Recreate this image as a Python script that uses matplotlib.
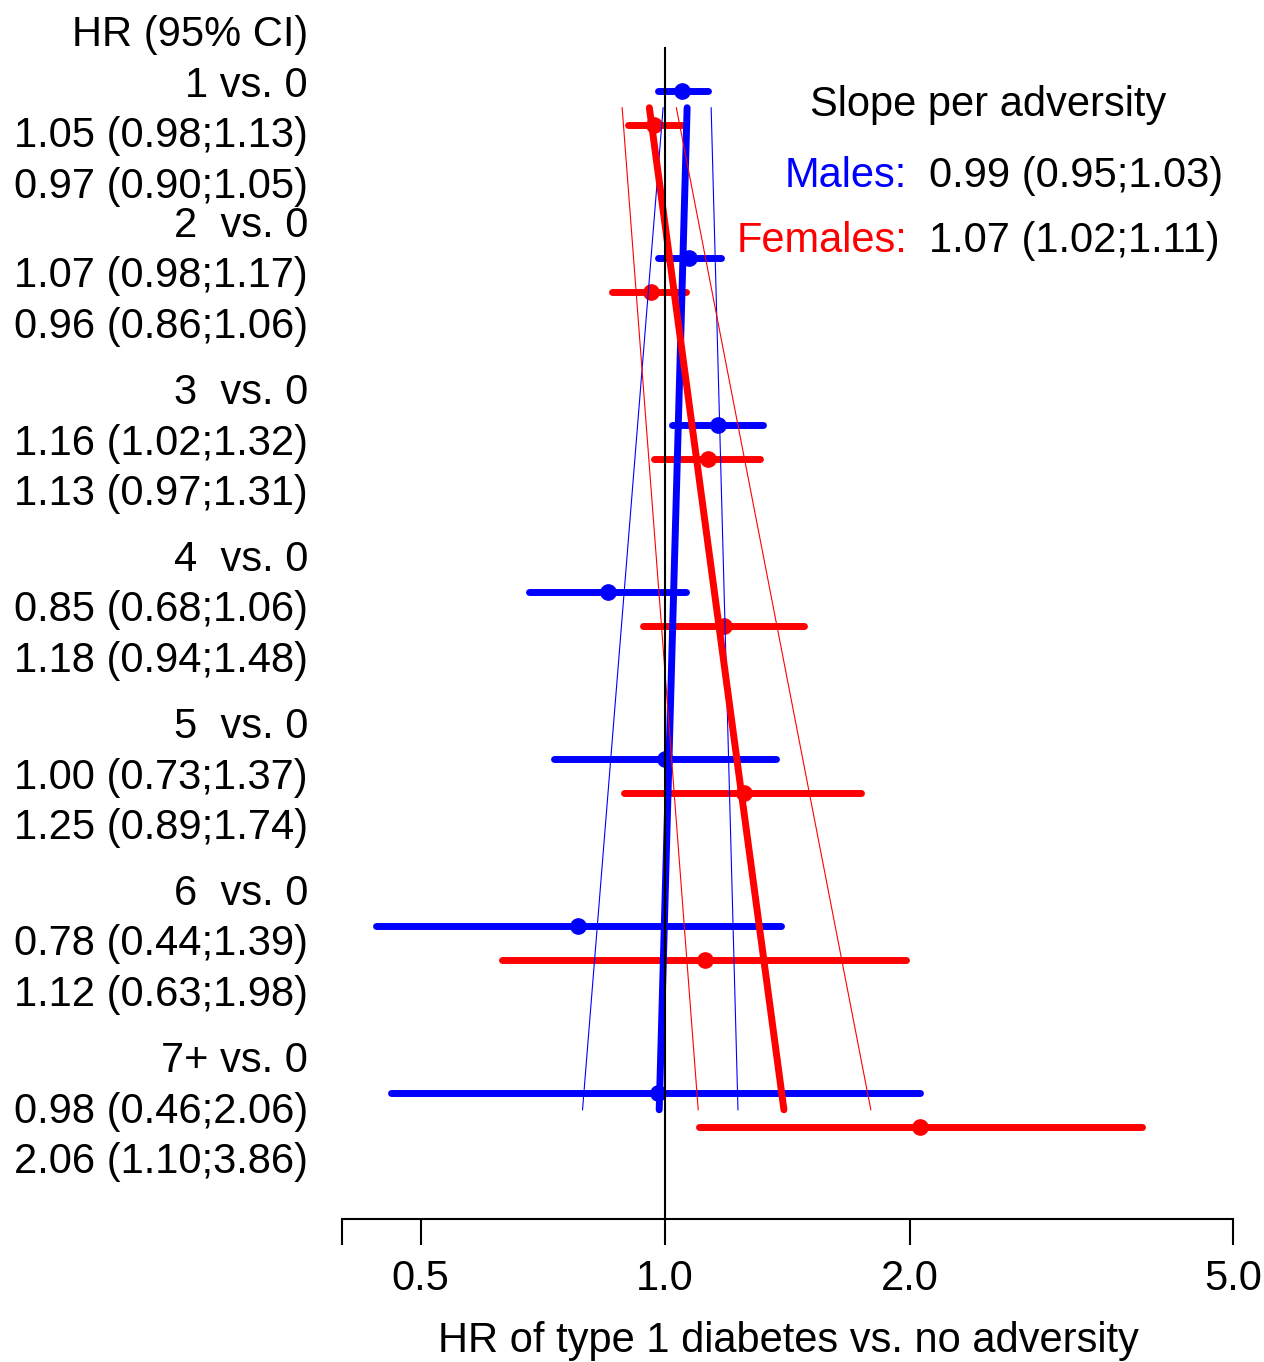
import matplotlib
matplotlib.use('Agg')
import matplotlib.pyplot as plt
import matplotlib.transforms as mtransforms

plt.rcParams['font.family'] = ['Liberation Sans', 'DejaVu Sans']

# ---------------- data ----------------
groups = ['1', '2', '3', '4', '5', '6', '7+']
male_hr = [1.05, 1.07, 1.16, 0.85, 1.00, 0.78, 0.98]
male_lo = [0.98, 0.98, 1.02, 0.68, 0.73, 0.44, 0.46]
male_hi = [1.13, 1.17, 1.32, 1.06, 1.37, 1.39, 2.06]
female_hr = [0.97, 0.96, 1.13, 1.18, 1.25, 1.12, 2.06]
female_lo = [0.90, 0.86, 0.97, 0.94, 0.89, 0.63, 1.10]
female_hi = [1.05, 1.06, 1.31, 1.48, 1.74, 1.98, 3.86]

# fitted trend lines at first and last category: (fit, lower, upper)
male_trend_first = [1.064, 0.994, 1.139]
male_trend_last = [0.983, 0.791, 1.229]
female_trend_first = [0.956, 0.885, 1.032]
female_trend_last = [1.400, 1.098, 1.791]

slope_labels = ['Males:', 'Females:']
slope_values = ['0.99 (0.95;1.03)', '1.07 (1.02;1.11)']

xticks = [0.4, 0.5, 1.0, 2.0, 5.0]
xticklabels = ['', '0.5', '1.0', '2.0', '5.0']

BLUE = '#0000ff'
RED = '#ff0000'
FS = 30

# ---------------- layout ----------------
W, H = 1264, 1362
fig = plt.figure(figsize=(W / 100, H / 100), dpi=100)
ax = fig.add_axes([342 / W, 1 - 1219 / H, (1233 - 342) / W, 1219 / H])
ax.set_xscale('log')
ax.set_xlim(0.4, 5.0)
ax.set_ylim(1219, 0)

STEP = 167
def male_y(i):
    return 91 + STEP * i
def female_y(i):
    return 124.5 + STEP * i

# CI bars and points
for i in range(len(groups)):
    ax.plot([male_lo[i], male_hi[i]], [male_y(i)] * 2, color=BLUE, lw=5,
            solid_capstyle='round', zorder=2)
    ax.plot([male_hr[i]], [male_y(i)], 'o', color=BLUE, ms=11, zorder=3)
    ax.plot([female_lo[i], female_hi[i]], [female_y(i)] * 2, color=RED, lw=5,
            solid_capstyle='round', zorder=2)
    ax.plot([female_hr[i]], [female_y(i)], 'o', color=RED, ms=11, zorder=3)

# trend lines
y0 = (male_y(0) + female_y(0)) / 2
y1 = (male_y(len(groups) - 1) + female_y(len(groups) - 1)) / 2
for first, last, col in [(male_trend_first, male_trend_last, BLUE),
                         (female_trend_first, female_trend_last, RED)]:
    ax.plot([first[0], last[0]], [y0, y1], color=col, lw=5,
            solid_capstyle='round', zorder=4)
    for k in (1, 2):
        ax.plot([first[k], last[k]], [y0, y1], color=col, lw=0.8, zorder=4)

# reference line
ax.vlines(1.0, 47, 1219, color='black', lw=1.5, zorder=5)

# axes styling
for s in ['top', 'right', 'left']:
    ax.spines[s].set_visible(False)
ax.spines['bottom'].set_linewidth(1.5)
ax.set_yticks([])
ax.set_xticks(xticks)
ax.set_xticklabels(xticklabels, fontsize=FS)
ax.minorticks_off()
ax.tick_params(axis='x', direction='out', length=19, width=1.5, pad=10)
ax.patch.set_visible(False)

# left labels
tr = mtransforms.blended_transform_factory(fig.transFigure, ax.transData)
xr = 308 / W
ax.text(xr, 46, 'HR (95% CI)', transform=tr, ha='right', va='baseline', fontsize=FS)
for i, g in enumerate(groups):
    head = 70 + STEP * i + (27 if i == 0 else 0)
    gl = g + (' ' if len(g) == 1 and i > 0 else '')
    ax.text(xr, head, f'{gl} vs. 0', transform=tr, ha='right', va='baseline', fontsize=FS)
    ax.text(xr, head + 50.5, f'{male_hr[i]:.2f} ({male_lo[i]:.2f};{male_hi[i]:.2f})',
            transform=tr, ha='right', va='baseline', fontsize=FS)
    ax.text(xr, head + 101, f'{female_hr[i]:.2f} ({female_lo[i]:.2f};{female_hi[i]:.2f})',
            transform=tr, ha='right', va='baseline', fontsize=FS)

# slope annotation
fig.text(988 / W, 1 - 116 / H, 'Slope per adversity', ha='center', va='baseline', fontsize=FS)
for lab, val, col, yb in [(slope_labels[0], slope_values[0], BLUE, 187),
                          (slope_labels[1], slope_values[1], RED, 252)]:
    fig.text(907 / W, 1 - yb / H, lab, color=col, ha='right', va='baseline', fontsize=FS)
    fig.text(929 / W, 1 - yb / H, val, color='black', ha='left', va='baseline', fontsize=FS)

fig.text(788 / W, 1 - 1352 / H, 'HR of type 1 diabetes vs. no adversity',
         ha='center', va='baseline', fontsize=FS)

fig.savefig('out.png', dpi=100)
